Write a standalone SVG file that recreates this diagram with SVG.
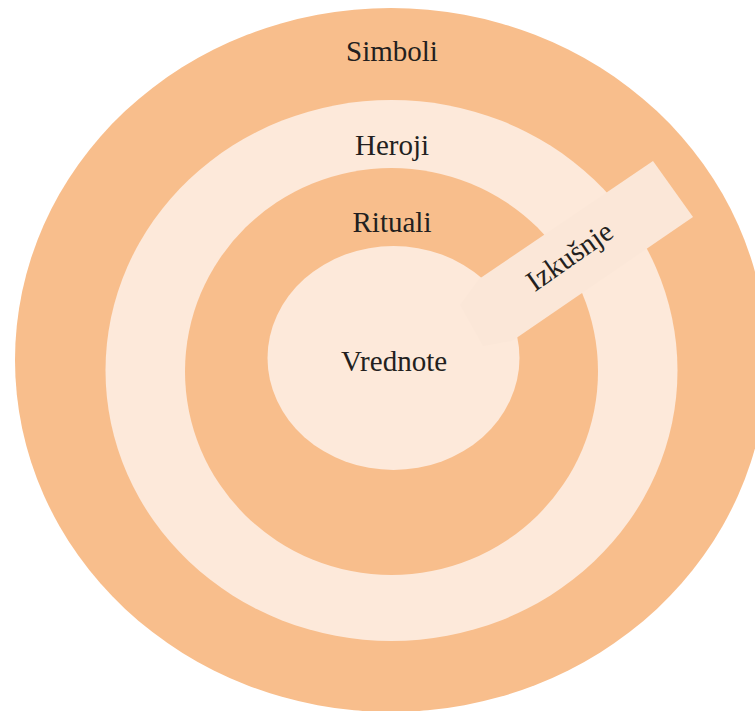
<svg xmlns="http://www.w3.org/2000/svg" width="755" height="711" viewBox="0 0 755 711">
<style>
.o{fill:#F8BE8C}
.l{fill:#FDE9DA}
.t{font-family:"Liberation Serif","Times New Roman",serif;font-size:29px;fill:#231F20;text-anchor:middle}
</style>
<rect width="755" height="711" fill="#FFFFFF"/>
<g id="simboli">
<ellipse class="o" cx="391" cy="360" rx="376" ry="352"/>
<text class="t" x="392" y="61">Simboli</text>
</g>
<g id="heroji">
<ellipse class="l" cx="391.5" cy="370.5" rx="286" ry="270.5"/>
<text class="t" x="392" y="155">Heroji</text>
</g>
<g id="rituali">
<ellipse class="o" cx="391.5" cy="371.5" rx="206.5" ry="203.5"/>
<text class="t" x="392" y="232">Rituali</text>
</g>
<g id="vrednote">
<ellipse class="l" cx="393.5" cy="358" rx="126" ry="112"/>
<text class="t" x="394" y="371">Vrednote</text>
</g>
<g id="izkusnje">
<polygon points="653,161 693,217 512,341 483,346 460,305 479,279" fill="#FBE7D8"/>
<text class="t" transform="translate(575,264) rotate(-35)" x="0" y="0">Izkušnje</text>
</g>
</svg>
